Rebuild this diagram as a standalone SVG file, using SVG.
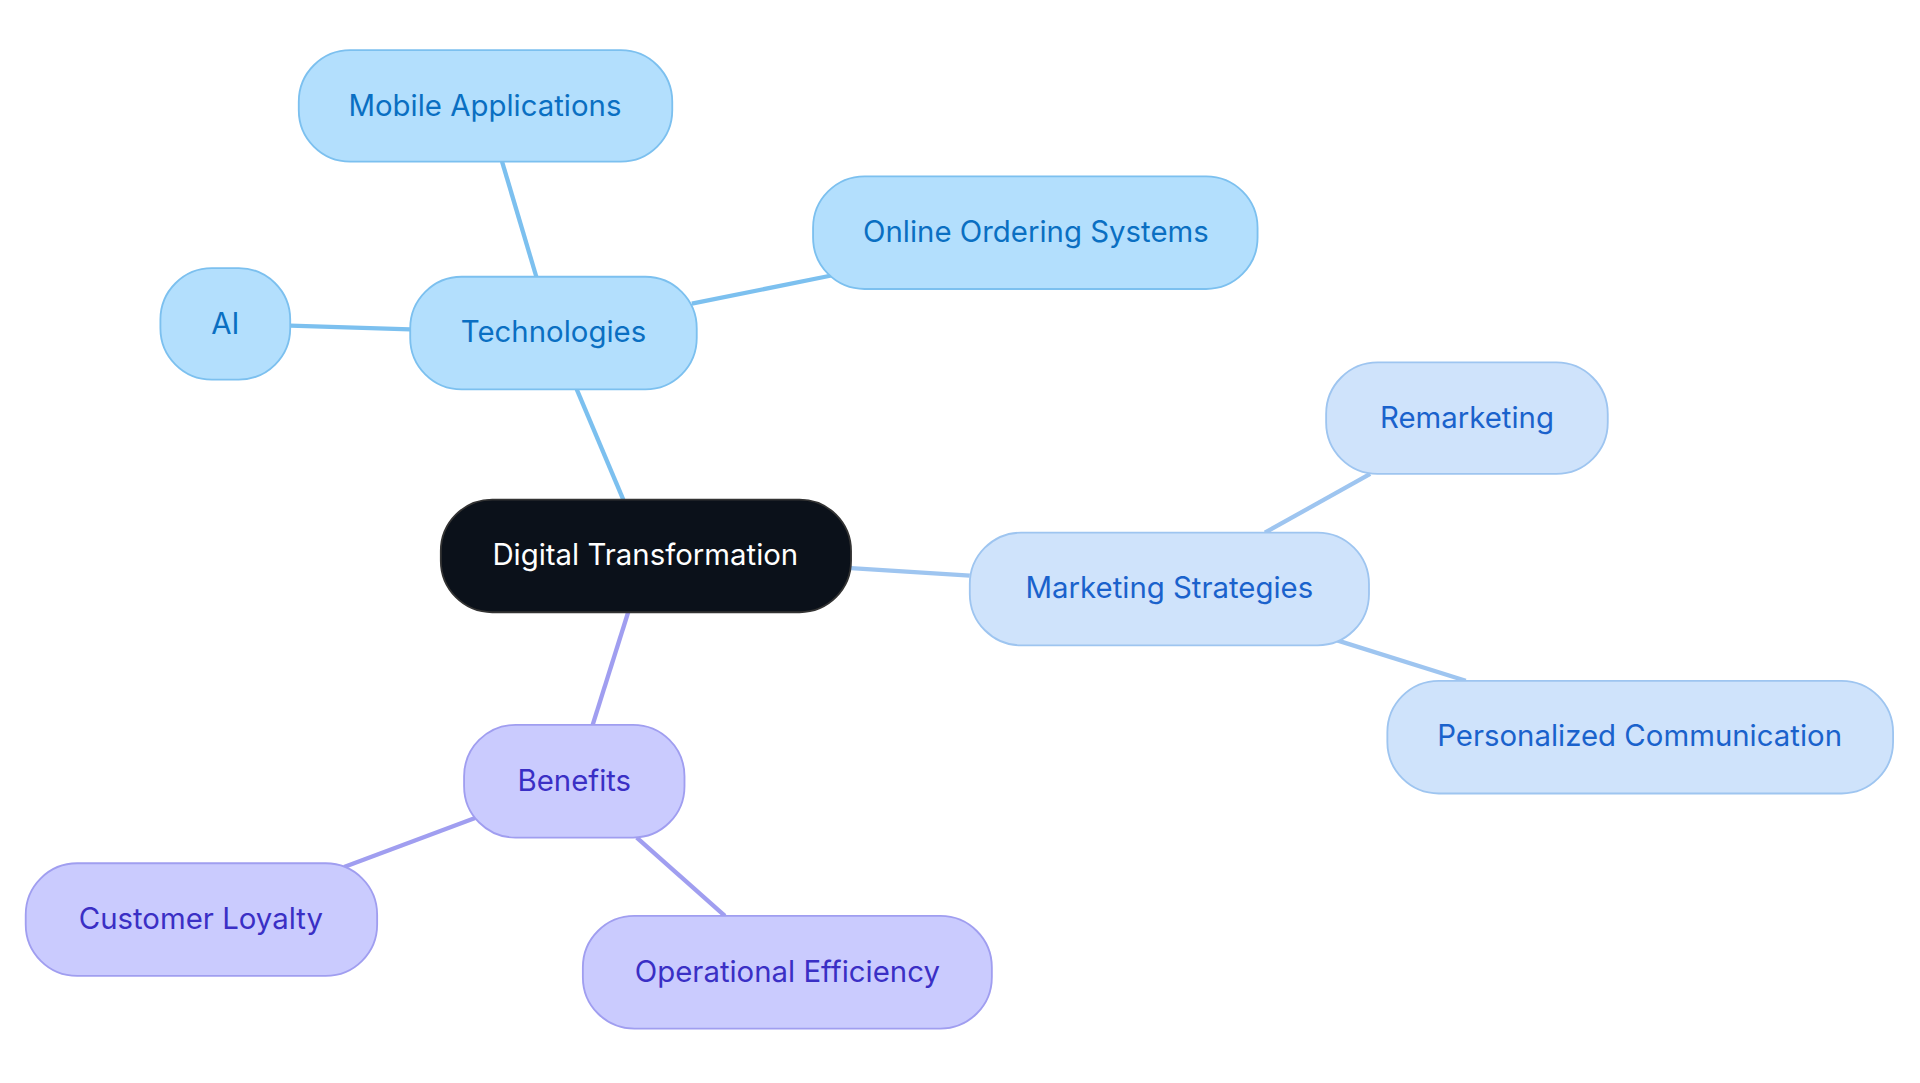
<svg xmlns="http://www.w3.org/2000/svg" width="1920" height="1083" viewBox="0 0 1920 1083">
<style>
text{font-family:Inter,"Noto Sans",sans-serif;font-size:24px;text-anchor:middle;dominant-baseline:central}
.t rect{fill:#b3dffd;stroke:#7cc0ef;stroke-width:1.5}
.t text{fill:#0a6fc2}
.m rect{fill:#cfe3fb;stroke:#9ec5f0;stroke-width:1.5}
.m text{fill:#1a62cc}
.b rect{fill:#cacbfe;stroke:#a09ef0;stroke-width:1.5}
.b text{fill:#3a2fc5}
.lt{stroke:#7cc0ef;stroke-width:3.5}
.lm{stroke:#9ec5f0;stroke-width:3.5}
.lb{stroke:#a09ef0;stroke-width:3.5}
</style>
<rect width="1920" height="1083" fill="#fff"/>
<g transform="scale(1.2245)">
<g id="connectors" fill="none">
<line class="lt" x1="509" y1="408" x2="471" y2="318"/>
<line class="lt" x1="438" y1="226" x2="410" y2="132"/>
<line class="lt" x1="565" y1="248" x2="679" y2="225"/>
<line class="lt" x1="335" y1="269" x2="237" y2="266"/>
<line class="lm" x1="695" y1="464" x2="792" y2="470"/>
<line class="lm" x1="1033" y1="435" x2="1119" y2="387"/>
<line class="lm" x1="1092" y1="523" x2="1197" y2="556"/>
<line class="lb" x1="513" y1="500" x2="484" y2="592"/>
<line class="lb" x1="388" y1="668" x2="281" y2="708"/>
<line class="lb" x1="520" y1="684" x2="592" y2="748"/>
</g>
<g id="dt"><rect x="360" y="408" width="335" height="92" rx="42" fill="#0b111a" stroke="#333" stroke-width="1.5"/><text x="527" y="453" fill="#fff">Digital Transformation</text></g>
<g id="tech" class="t"><rect x="335" y="226" width="234" height="92" rx="42"/><text x="452" y="271">Technologies</text></g>
<g id="mobile" class="t"><rect x="244" y="41" width="305" height="91" rx="42"/><text x="396" y="86">Mobile Applications</text></g>
<g id="online" class="t"><rect x="664" y="144" width="363" height="92" rx="42"/><text x="846" y="189">Online Ordering Systems</text></g>
<g id="ai" class="t"><rect x="131" y="219" width="106" height="91" rx="42"/><text x="184" y="264">AI</text></g>
<g id="mkt" class="m"><rect x="792" y="435" width="326" height="92" rx="42"/><text x="955" y="480">Marketing Strategies</text></g>
<g id="rem" class="m"><rect x="1083" y="296" width="230" height="91" rx="42"/><text x="1198" y="341">Remarketing</text></g>
<g id="pers" class="m"><rect x="1133" y="556" width="413" height="92" rx="42"/><text x="1339" y="601">Personalized Communication</text></g>
<g id="ben" class="b"><rect x="379" y="592" width="180" height="92" rx="42"/><text x="469" y="637">Benefits</text></g>
<g id="cl" class="b"><rect x="21" y="705" width="287" height="92" rx="42"/><text x="164" y="750">Customer Loyalty</text></g>
<g id="oe" class="b"><rect x="476" y="748" width="334" height="92" rx="42"/><text x="643" y="793">Operational Efficiency</text></g>
</g>
</svg>
